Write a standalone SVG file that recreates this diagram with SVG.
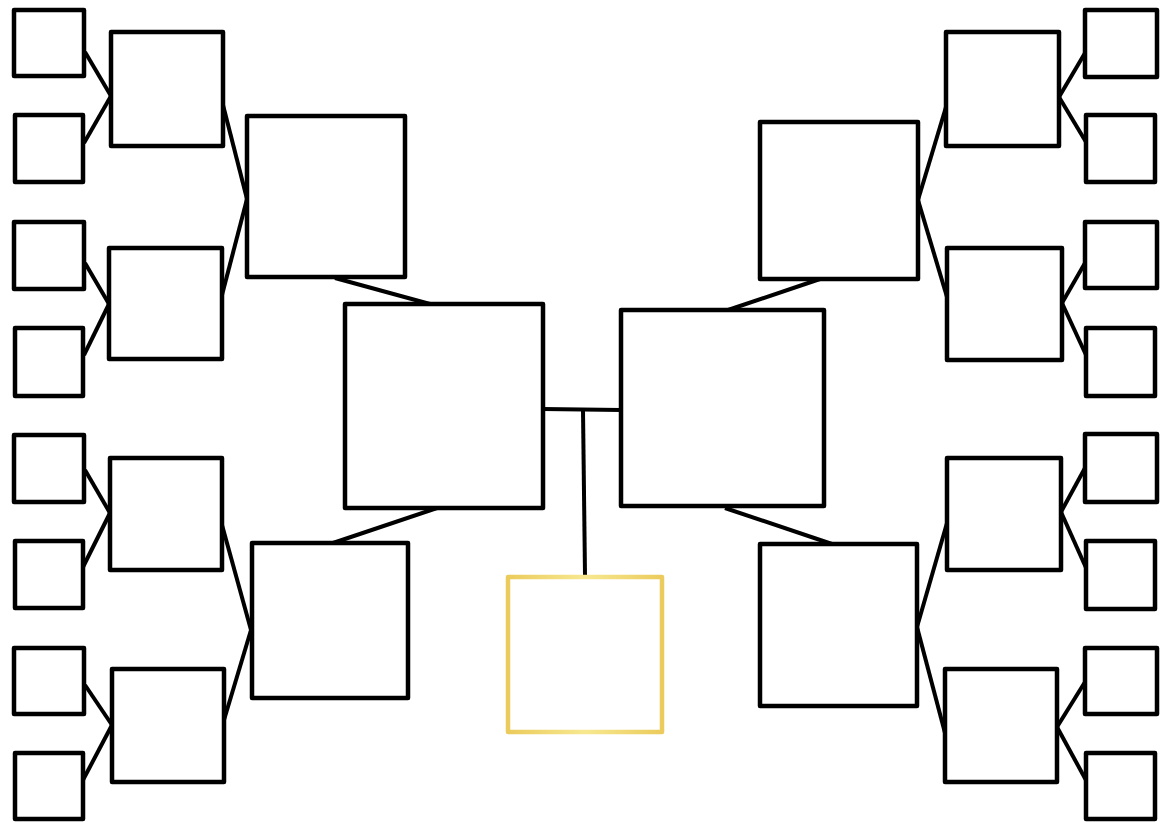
<svg xmlns="http://www.w3.org/2000/svg" width="1170" height="822" viewBox="0 0 1170 822">
<defs>
<linearGradient id="gold" x1="0" y1="0" x2="1" y2="0">
<stop offset="0" stop-color="#EBCB5C"/>
<stop offset="0.5" stop-color="#F7E890"/>
<stop offset="1" stop-color="#EBCB5C"/>
</linearGradient>
</defs>
<style>
.box{fill:#FFFFFF;stroke:#000000;stroke-width:4.5;stroke-linejoin:round}
.me{fill:#FFFFFF;stroke:url(#gold);stroke-width:4.5;stroke-linejoin:round}
.link{stroke:#000000;stroke-width:4;fill:none;stroke-linecap:butt}
</style>
<rect width="1170" height="822" fill="#FFFFFF"/>
<g id="connectors">
<line class="link" x1="85" y1="52" x2="111" y2="96"/>
<line class="link" x1="84" y1="143" x2="111" y2="96"/>
<line class="link" x1="85" y1="263" x2="109" y2="304"/>
<line class="link" x1="84" y1="355" x2="109" y2="304"/>
<line class="link" x1="223" y1="105" x2="247" y2="199"/>
<line class="link" x1="222" y1="295" x2="247" y2="199"/>
<line class="link" x1="85" y1="470" x2="110" y2="513"/>
<line class="link" x1="83" y1="567" x2="110" y2="513"/>
<line class="link" x1="85" y1="685" x2="112" y2="725"/>
<line class="link" x1="83" y1="780" x2="112" y2="725"/>
<line class="link" x1="222" y1="525" x2="251" y2="630"/>
<line class="link" x1="224" y1="720" x2="251" y2="630"/>
<line class="link" x1="335" y1="278" x2="430" y2="304"/>
<line class="link" x1="333" y1="543" x2="437" y2="508"/>
<line class="link" x1="543" y1="409" x2="621" y2="410"/>
<line class="link" x1="583" y1="410" x2="585" y2="575"/>
<line class="link" x1="728" y1="310" x2="820" y2="279"/>
<line class="link" x1="725" y1="508" x2="832" y2="544"/>
<line class="link" x1="918" y1="200" x2="946" y2="107"/>
<line class="link" x1="918" y1="200" x2="947" y2="297"/>
<line class="link" x1="1059" y1="97" x2="1085" y2="53"/>
<line class="link" x1="1059" y1="97" x2="1086" y2="142"/>
<line class="link" x1="1062" y1="303" x2="1085" y2="263"/>
<line class="link" x1="1062" y1="303" x2="1086" y2="355"/>
<line class="link" x1="917" y1="627" x2="947" y2="523"/>
<line class="link" x1="917" y1="627" x2="945" y2="733"/>
<line class="link" x1="1061" y1="512" x2="1085" y2="468"/>
<line class="link" x1="1061" y1="512" x2="1087" y2="570"/>
<line class="link" x1="1057" y1="727" x2="1085" y2="682"/>
<line class="link" x1="1057" y1="727" x2="1087" y2="782"/>
</g>
<g id="L1a"><rect class="box" x="14" y="10" width="70" height="66"/></g>
<g id="L1b"><rect class="box" x="15" y="115" width="68" height="67"/></g>
<g id="L1c"><rect class="box" x="14" y="222" width="70" height="67"/></g>
<g id="L1d"><rect class="box" x="15" y="328" width="68" height="68"/></g>
<g id="L1e"><rect class="box" x="14" y="435" width="70" height="67"/></g>
<g id="L1f"><rect class="box" x="15" y="541" width="68" height="67"/></g>
<g id="L1g"><rect class="box" x="14" y="648" width="70" height="66"/></g>
<g id="L1h"><rect class="box" x="15" y="753" width="68" height="66"/></g>
<g id="L2a"><rect class="box" x="111" y="32" width="112" height="114"/></g>
<g id="L2b"><rect class="box" x="109" y="248" width="113" height="111"/></g>
<g id="L2c"><rect class="box" x="110" y="458" width="112" height="112"/></g>
<g id="L2d"><rect class="box" x="112" y="669" width="112" height="113"/></g>
<g id="L3a"><rect class="box" x="247" y="116" width="158" height="161"/></g>
<g id="L3b"><rect class="box" x="252" y="543" width="156" height="155"/></g>
<g id="ML"><rect class="box" x="345" y="304" width="198" height="204"/></g>
<g id="MR"><rect class="box" x="621" y="310" width="203" height="196"/></g>
<g id="Me"><rect class="me" x="508" y="577" width="154" height="155"/></g>
<g id="R3a"><rect class="box" x="760" y="122" width="158" height="157"/></g>
<g id="R3b"><rect class="box" x="760" y="544" width="157" height="162"/></g>
<g id="R2a"><rect class="box" x="946" y="32" width="113" height="114"/></g>
<g id="R2b"><rect class="box" x="947" y="248" width="115" height="112"/></g>
<g id="R2c"><rect class="box" x="947" y="458" width="114" height="112"/></g>
<g id="R2d"><rect class="box" x="945" y="669" width="112" height="113"/></g>
<g id="R1a"><rect class="box" x="1085" y="10" width="72" height="67"/></g>
<g id="R1b"><rect class="box" x="1086" y="115" width="69" height="67"/></g>
<g id="R1c"><rect class="box" x="1085" y="222" width="72" height="66"/></g>
<g id="R1d"><rect class="box" x="1086" y="328" width="69" height="68"/></g>
<g id="R1e"><rect class="box" x="1085" y="434" width="72" height="68"/></g>
<g id="R1f"><rect class="box" x="1086" y="541" width="69" height="68"/></g>
<g id="R1g"><rect class="box" x="1085" y="648" width="72" height="66"/></g>
<g id="R1h"><rect class="box" x="1086" y="753" width="69" height="66"/></g>
</svg>
